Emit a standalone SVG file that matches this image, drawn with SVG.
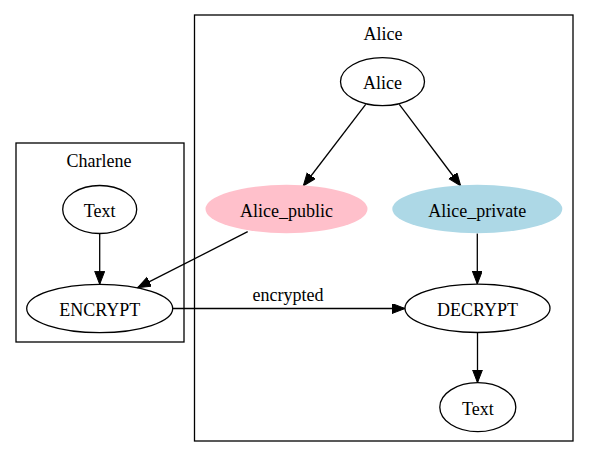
<svg xmlns="http://www.w3.org/2000/svg" width="589" height="459" viewBox="0 0 589 459">
<style>
text{font-family:"Liberation Serif","Times New Roman",serif;font-size:18px;fill:#000;text-anchor:middle}
.cl{fill:none;stroke:#000;stroke-width:1.3}
.nd{fill:none;stroke:#000;stroke-width:1.3}
.ed{fill:none;stroke:#000;stroke-width:1.3;marker-end:url(#ah)}
</style>
<defs>
<marker id="ah" markerUnits="userSpaceOnUse" markerWidth="14" markerHeight="11" refX="13" refY="5" orient="auto">
<path d="M0,0 L13,5 L0,10 z" fill="#000" stroke="#000" stroke-width="1"/>
</marker>
</defs>
<rect width="589" height="459" fill="#fff"/>
<g id="cluster_alice">
<rect class="cl" x="194.5" y="15" width="378.5" height="426"/>
<text x="383" y="40">Alice</text>
</g>
<g id="cluster_charlene">
<rect class="cl" x="16" y="143" width="168" height="199"/>
<text x="99" y="167">Charlene</text>
</g>
<g id="connectors">
<path class="ed" d="M365.7,104.3 L303.3,186"/>
<path class="ed" d="M399.3,104.3 L460.7,186"/>
<path class="ed" d="M247.7,231.7 L137.7,287.7"/>
<path class="ed" d="M99.7,233.5 L99.7,284.3"/>
<path class="ed" d="M172.7,308.5 L405,308.5"/>
<text x="288" y="301">encrypted</text>
<path class="ed" d="M477.3,233.5 L477.3,284"/>
<path class="ed" d="M477.5,332.5 L477.5,382.7"/>
</g>
<g id="alice">
<ellipse class="nd" cx="382.5" cy="81.7" rx="42" ry="24"/>
<text x="382.5" y="89.3">Alice</text>
</g>
<g id="alice_public">
<ellipse cx="286.5" cy="209" rx="81" ry="24.2" fill="#ffc0cb"/>
<text x="286.5" y="216.6">Alice_public</text>
</g>
<g id="alice_private">
<ellipse cx="477.3" cy="209" rx="85" ry="24.2" fill="#add8e6"/>
<text x="477.3" y="216.6">Alice_private</text>
</g>
<g id="decrypt">
<ellipse class="nd" cx="477.5" cy="308.3" rx="72.5" ry="24.2"/>
<text x="477.5" y="316">DECRYPT</text>
</g>
<g id="alice_text">
<ellipse class="nd" cx="477.8" cy="407.2" rx="38" ry="24.5"/>
<text x="477.8" y="415">Text</text>
</g>
<g id="charlene_text">
<ellipse class="nd" cx="99.7" cy="209.5" rx="37" ry="24"/>
<text x="99.7" y="217.2">Text</text>
</g>
<g id="encrypt">
<ellipse class="nd" cx="99.7" cy="308.5" rx="73" ry="24.2"/>
<text x="99.7" y="316.2">ENCRYPT</text>
</g>
</svg>
